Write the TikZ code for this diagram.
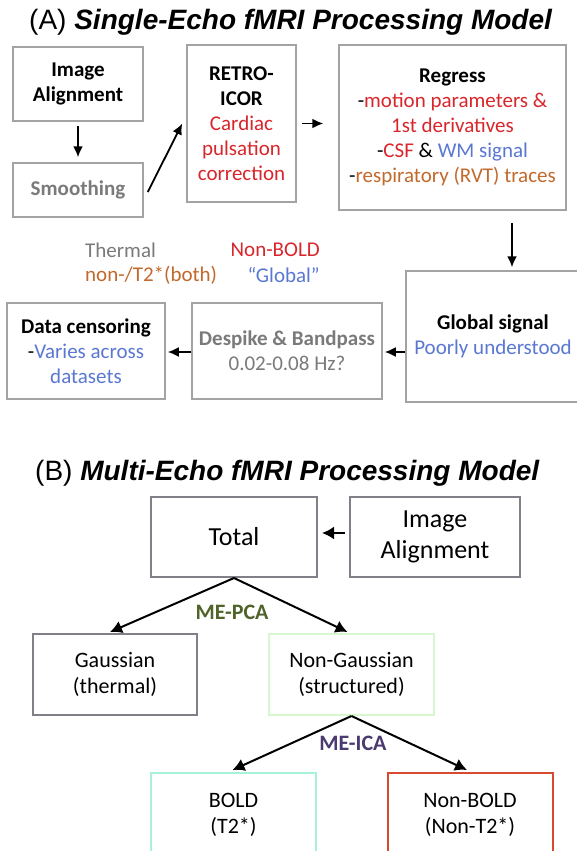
\documentclass[tikz,border=0pt]{standalone}
\usepackage{fontspec}
\setmainfont{Carlito}
\newfontfamily\titlefont{Liberation Sans}
\usetikzlibrary{arrows.meta,calc}
\definecolor{cred}{HTML}{D9262C}
\definecolor{cblue}{HTML}{5A78D2}
\definecolor{corange}{HTML}{C2692C}
\definecolor{tgray}{HTML}{7A7A7A}
\definecolor{agray}{HTML}{A3A3A3}
\definecolor{bgray}{HTML}{808088}
\definecolor{pgreen}{HTML}{D6F8CE}
\definecolor{aqua}{HTML}{A6F2DA}
\definecolor{nbred}{HTML}{D84A2E}
\definecolor{olive}{HTML}{50632A}
\definecolor{purp}{HTML}{4A3A6E}
\tikzset{
  abox/.style={draw=agray,line width=1.5pt,inner sep=0pt,align=center,
    font=\fontsize{21}{25}\selectfont},
  bbox/.style={draw=bgray,line width=2pt,inner sep=0pt,align=center,
    font=\fontsize{22}{26.5}\selectfont},
  arr/.style={draw=black,line width=1.8pt,-{Latex[length=11pt,width=10pt]}},
  barr/.style={draw=black,line width=2pt,-{Latex[length=12pt,width=13pt]}},
  ftext/.style={inner sep=0pt,font=\fontsize{21}{25}\selectfont},
  ttl/.style={inner sep=0pt,anchor=west,font=\titlefont\fontsize{28}{32}\selectfont},
  lbl/.style={inner sep=0pt,font=\bfseries\fontsize{22}{26}\selectfont}
}
\begin{document}
\begin{tikzpicture}[x=1pt,y=-1pt]
\path[use as bounding box,clip] (0,0) rectangle (577,851);
\fill[white] (0,0) rectangle (577,851);

% ---- (A) ----
\node[ttl] (ta) at (29,22) {(A) \textbf{\textit{Single-Echo fMRI Processing Model}}};

\node[abox,minimum width=130pt,minimum height=74pt] (ia) at (78,84)
  {\textbf{Image}\\\textbf{Alignment}};
\node[abox,minimum width=130pt,minimum height=54pt,text=tgray] (sm) at (78,190)
  {\textbf{Smoothing}};
\node[abox,minimum width=109pt,minimum height=157pt] (retro) at (241.5,123.5)
  {\textbf{RETRO-}\\\textbf{ICOR}\\\textcolor{cred}{Cardiac}\\\textcolor{cred}{pulsation}\\\textcolor{cred}{correction}};
\node[abox,minimum width=227pt,minimum height=165pt] (reg) at (452.5,127.5)
  {\textbf{Regress}\\-\textcolor{cred}{motion parameters \&}\\\textcolor{cred}{1st derivatives}\\-\textcolor{cred}{CSF} \& \textcolor{cblue}{WM signal}\\-\textcolor{corange}{respiratory (RVT) traces}};
\node[abox,minimum width=174pt,minimum height=131pt] (gs) at (493,336.5)
  {\textbf{Global signal}\\\textcolor{cblue}{Poorly understood}};
\node[abox,minimum width=190pt,minimum height=96pt,text=tgray] (dsp) at (287,351)
  {\textbf{Despike \& Bandpass}\\0.02-0.08 Hz?};
\node[abox,minimum width=158pt,minimum height=96pt] (dc) at (86,351)
  {\textbf{Data censoring}\\-\textcolor{cblue}{Varies across}\\\textcolor{cblue}{datasets}};

\node[ftext,anchor=west,text=tgray] (th) at (85,250) {Thermal};
\node[ftext,anchor=west,text=corange] (nt) at (85,275) {non-/T2*(both)};
\node[ftext,anchor=east,text=cred] (nb) at (320,250) {Non-BOLD};
\node[ftext,anchor=east,text=cblue] (glb) at (320,275) {“Global”};

\draw[arr,shorten <=4pt,shorten >=5pt] (ia) -- (sm);
\draw[arr] ($(sm.east)+(4,2)$) -- ($(retro.west)+(-4,0)$);
\draw[arr] ($(retro.east)+(5,0)$) -- ($(retro.east -| reg.west)+(-15,0)$);
\draw[arr] ([xshift=59.5pt,yshift=-12pt]reg.south) -- ([xshift=19pt,yshift=3pt]gs.north);
\draw[arr] ($(gs.west)+(0,15.5)$) -- ($(dsp.east)+(2,1)$);
\draw[arr] ($(dsp.west)+(0,1)$) -- ($(dc.east)+(2,1)$);

% ---- (B) ----
\node[ttl] (tb) at (35,473) {(B) \textbf{\textit{Multi-Echo fMRI Processing Model}}};

\node[bbox,minimum width=166pt,minimum height=80pt,font=\fontsize{26}{31}\selectfont] (tot) at (234,537) {Total};
\node[bbox,minimum width=170pt,minimum height=80pt,font=\fontsize{26}{31}\selectfont] (ia2) at (435,537) {Image\\Alignment};
\node[bbox,minimum width=164pt,minimum height=81pt] (gau) at (115,674.5) {Gaussian\\(thermal)};
\node[bbox,draw=pgreen,minimum width=165pt,minimum height=81pt] (ng) at (351.5,674.5) {Non-Gaussian\\(structured)};
\node[bbox,draw=aqua,minimum width=165pt,minimum height=84pt] (bo) at (233.5,815) {BOLD\\(T2*)};
\node[bbox,draw=nbred,minimum width=165pt,minimum height=84pt] (nbo) at (470,815) {Non-BOLD\\(Non-T2*)};

\draw[barr] ($(ia2.west)+(-4,-4)$) -- ($(tot.east)+(4,-4)$);
\draw[barr] (tot.south) -- ($(gau.north)+(-5,-1)$);
\draw[barr] (tot.south) -- ($(ng.north)+(-4,-1)$);
\draw[barr] (ng.south) -- ($(bo.north)+(-1,-2)$);
\draw[barr] (ng.south) -- ($(nbo.north)+(-3,-2)$);

\node[lbl,text=olive] (pca) at (232,612) {ME-PCA};
\node[lbl,text=purp] (ica) at (353,743) {ME-ICA};
\end{tikzpicture}
\end{document}
